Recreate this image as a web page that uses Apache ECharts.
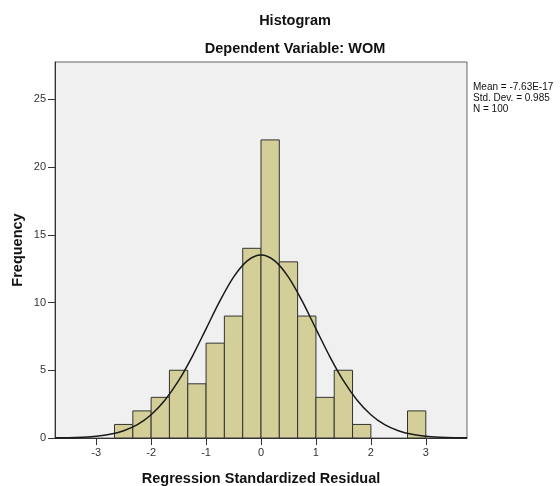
<!DOCTYPE html>
<html>
<head>
<meta charset="utf-8">
<script src="https://cdn.jsdelivr.net/npm/echarts@6/dist/echarts.min.js"></script>
<style>
  html, body { margin: 0; padding: 0; background: #fff; }
  #chart { width: 560px; height: 486px; }
</style>
</head>
<body>
<div id="chart"></div>
<script>
// histogram bins (left edge, width 1/3)
var binStarts = [-2.667, -2.333, -2, -1.667, -1.333, -1, -0.667, -0.333, 0, 0.333, 0.667, 1, 1.333, 1.667, 2, 2.333, 2.667];
var binCounts = [1, 2, 3, 5, 4, 7, 9, 14, 22, 13, 9, 3, 5, 1, 0, 0, 2];
var binWidth = 1 / 3;

// normal curve
var curveX = [-3.75, -3.5, -3.25, -3, -2.75, -2.5, -2.25, -2, -1.75, -1.5, -1.25, -1, -0.75, -0.5, -0.25, 0,
  0.25, 0.5, 0.75, 1, 1.25, 1.5, 1.75, 2, 2.25, 2.5, 2.75, 3, 3.25, 3.5, 3.75];
var curveY = [0.01, 0.02, 0.06, 0.13, 0.27, 0.54, 0.99, 1.72, 2.79, 4.23, 6.03, 8.06, 10.1, 11.87, 13.07, 13.5,
  13.07, 11.87, 10.1, 8.06, 6.03, 4.23, 2.79, 1.72, 0.99, 0.54, 0.27, 0.13, 0.06, 0.02, 0.01];

var xTicks = [-3, -2, -1, 0, 1, 2, 3];
var yTicks = [0, 5, 10, 15, 20, 25];
var statsLines = ['Mean = -7.63E-17', 'Std. Dev. = 0.985', 'N = 100'];

var font = '"Liberation Sans", Arial, sans-serif';

var chart = echarts.init(document.getElementById('chart'));

chart.setOption({
  animation: false,
  textStyle: { fontFamily: font },
  title: [
    {
      text: 'Histogram', left: 290, top: 8, textAlign: 'center',
      textStyle: { fontSize: 14.5, fontWeight: 'bold', color: '#111', fontFamily: font }
    },
    {
      text: 'Dependent Variable: WOM', left: 290, top: 36, textAlign: 'center',
      textStyle: { fontSize: 14.5, fontWeight: 'bold', color: '#111', fontFamily: font }
    }
  ],
  graphic: [{
    type: 'text', left: 473, top: 82,
    style: { text: statsLines.join('\n'), font: '10px ' + font, fill: '#111', lineHeight: 11 }
  }],
  grid: {
    left: 55, right: 93, top: 62, bottom: 48,
    containLabel: false, outerBoundsMode: 'none',
    show: true, backgroundColor: '#f0f0f0', borderColor: '#666', borderWidth: 1
  },
  xAxis: {
    type: 'value', min: -3.75, max: 3.75,
    name: 'Regression Standardized Residual', nameLocation: 'middle', nameGap: 33,
    nameTextStyle: { fontSize: 14.5, fontWeight: 'bold', color: '#111' },
    axisLine: { show: true, onZero: false, lineStyle: { color: '#333' } },
    axisTick: { show: true, length: 7, customValues: xTicks, lineStyle: { color: '#333' } },
    axisLabel: { customValues: xTicks, color: '#333', fontSize: 11, margin: 9 },
    splitLine: { show: false }
  },
  yAxis: {
    type: 'value', min: 0, max: 27.75,
    name: 'Frequency', nameLocation: 'middle', nameGap: 30, nameRotate: 90,
    nameMoveOverlap: false,
    nameTextStyle: { fontSize: 14.5, fontWeight: 'bold', color: '#111' },
    axisLine: { show: true, onZero: false, lineStyle: { color: '#333' } },
    axisTick: { show: true, length: 7, customValues: yTicks, lineStyle: { color: '#333' } },
    axisLabel: { customValues: yTicks, color: '#333', fontSize: 11, margin: 9 },
    splitLine: { show: false }
  },
  series: [
    {
      type: 'custom',
      data: binStarts.map(function (s, i) { return [s, binCounts[i]]; }),
      renderItem: function (params, api) {
        var x0 = api.value(0), y = api.value(1);
        if (!y) return null;
        var p0 = api.coord([x0, y]);
        var p1 = api.coord([x0 + binWidth, 0]);
        return {
          type: 'rect',
          shape: { x: p0[0], y: p0[1], width: p1[0] - p0[0], height: p1[1] - p0[1] },
          style: { fill: '#d4cf99', stroke: '#333', lineWidth: 1 }
        };
      },
      z: 2
    },
    {
      type: 'line',
      data: curveX.map(function (x, i) { return [x, curveY[i]]; }),
      smooth: 0.3,
      symbol: 'none',
      lineStyle: { color: '#1a1a1a', width: 1.5 },
      z: 3
    }
  ]
});
</script>
</body>
</html>
